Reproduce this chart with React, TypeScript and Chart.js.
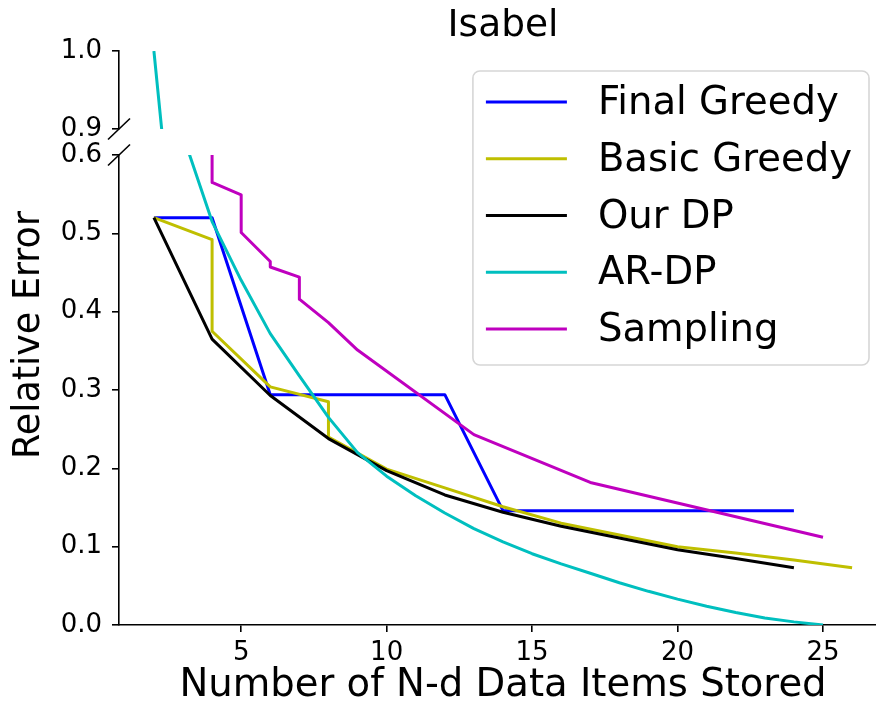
import React, { useEffect, useRef } from 'react';
import { Chart, registerables } from 'chart.js';

Chart.register(...registerables);

const FONT = "'DejaVu Sans', sans-serif";

const chartTitle = 'Isabel';
const xAxisLabel = 'Number of N-d Data Items Stored';
const yAxisLabel = 'Relative Error';

const xTickValues = [5, 10, 15, 20, 25];
const yTickValuesLower = [0, 0.1, 0.2, 0.3, 0.4, 0.5, 0.6];
const yTickValuesUpper = [0.9, 1.0];

const seriesNames = ['Final Greedy', 'Basic Greedy', 'Our DP', 'AR-DP', 'Sampling'];
const seriesColors = ['#0000ff', '#bfbf00', '#000000', '#00bfbf', '#bf00bf'];

const finalGreedyX = [2, 4, 6, 8, 10, 12, 14, 16, 18, 20, 22, 24];
const finalGreedyY = [0.52, 0.52, 0.294, 0.294, 0.294, 0.294, 0.146, 0.146, 0.146, 0.146, 0.146, 0.146];

const basicGreedyX = [2, 4, 4, 6, 8, 8, 10, 12, 14, 16, 18, 20, 22, 24, 26];
const basicGreedyY = [0.52, 0.492, 0.375, 0.304, 0.285, 0.24, 0.199, 0.175, 0.151, 0.13, 0.115, 0.1, 0.092, 0.083, 0.073];

const ourDpX = [2, 4, 6, 8, 10, 12, 14, 16, 18, 20, 22, 24];
const ourDpY = [0.52, 0.365, 0.293, 0.238, 0.197, 0.166, 0.144, 0.126, 0.111, 0.096, 0.085, 0.073];

const arDpX = [2, 3, 4, 5, 6, 7, 8, 9, 10, 11, 12, 13, 14, 15, 16, 17, 18, 19, 20, 21, 22, 23, 24, 25];
const arDpY = [1.0, 0.625, 0.515, 0.44, 0.372, 0.318, 0.265, 0.22, 0.19, 0.165, 0.143, 0.123, 0.106, 0.091, 0.078, 0.066, 0.054, 0.043, 0.033, 0.024, 0.016, 0.009, 0.004, 0.0];

const samplingX = [4, 4, 5, 5, 6, 6, 7, 7, 8, 9, 13, 17, 25];
const samplingY = [0.7, 0.565, 0.549, 0.501, 0.464, 0.457, 0.444, 0.416, 0.386, 0.351, 0.243, 0.182, 0.112];

const seriesX = [finalGreedyX, basicGreedyX, ourDpX, arDpX, samplingX];
const seriesY = [finalGreedyY, basicGreedyY, ourDpY, arDpY, samplingY];

function buildDatasets() {
  const out: any[] = [];
  for (let i = 0; i < seriesNames.length; i++) {
    const pts = seriesX[i].map((x, k) => ({ x, y: seriesY[i][k] }));
    const common = {
      label: seriesNames[i],
      data: pts,
      borderColor: seriesColors[i],
      backgroundColor: seriesColors[i],
      borderWidth: 3,
      pointRadius: 0,
      pointHoverRadius: 0,
      tension: 0,
      fill: false,
      borderJoinStyle: 'round',
      borderCapStyle: 'butt',
      order: seriesNames.length - i,
    };
    out.push({ ...common, yAxisID: 'yLow' });
    out.push({ ...common, yAxisID: 'yHigh' });
  }
  return out;
}

const clipPlugin = {
  id: 'perScaleClip',
  beforeDatasetDraw(chart: any, args: any) {
    const ys = chart.scales[args.meta.yAxisID];
    const { ctx, chartArea } = chart;
    ctx.save();
    ctx.beginPath();
    ctx.rect(chartArea.left, ys.top, chartArea.right - chartArea.left, ys.bottom - ys.top);
    ctx.clip();
  },
  afterDatasetDraw(chart: any) {
    chart.ctx.restore();
  },
};

const decorPlugin = {
  id: 'decor',
  afterDraw(chart: any) {
    const { ctx, chartArea } = chart;
    const hi = chart.scales.yHigh;
    const lo = chart.scales.yLow;
    // axis break marks
    ctx.save();
    ctx.strokeStyle = '#000';
    ctx.lineWidth = 1.6;
    const x0 = chartArea.left;
    for (const y of [hi.bottom, lo.top]) {
      ctx.beginPath();
      ctx.moveTo(x0 - 11, y + 10.5);
      ctx.lineTo(x0 + 11, y - 10.5);
      ctx.stroke();
    }
    ctx.restore();

    // y-axis title, centred on both axes
    ctx.save();
    ctx.fillStyle = '#000';
    ctx.font = `36.5px ${FONT}`;
    ctx.textAlign = 'center';
    ctx.textBaseline = 'middle';
    ctx.translate(30, (hi.top + lo.bottom) / 2 - 3);
    ctx.rotate(-Math.PI / 2);
    ctx.fillText(yAxisLabel, 0, 0);
    ctx.restore();

    // legend box
    const items = chart.data.datasets.filter((d: any) => d.yAxisID === 'yLow');
    ctx.save();
    ctx.font = `38.6px ${FONT}`;
    let maxW = 0;
    for (const d of items) maxW = Math.max(maxW, ctx.measureText(d.label).width);
    const w = 125 + maxW + 17;
    const h = 294;
    const right = chartArea.right - 18;
    const left = right - w;
    const top = chartArea.top + 20;
    const r = 7;
    ctx.beginPath();
    ctx.moveTo(left + r, top);
    ctx.lineTo(right - r, top);
    ctx.arcTo(right, top, right, top + r, r);
    ctx.lineTo(right, top + h - r);
    ctx.arcTo(right, top + h, right - r, top + h, r);
    ctx.lineTo(left + r, top + h);
    ctx.arcTo(left, top + h, left, top + h - r, r);
    ctx.lineTo(left, top + r);
    ctx.arcTo(left, top, left + r, top, r);
    ctx.closePath();
    ctx.fillStyle = 'rgba(255,255,255,0.8)';
    ctx.fill();
    ctx.strokeStyle = '#d6d6d6';
    ctx.lineWidth = 1.6;
    ctx.stroke();
    items.forEach((d: any, i: number) => {
      const y = top + 31 + i * 56.75;
      ctx.beginPath();
      ctx.strokeStyle = d.borderColor;
      ctx.lineWidth = 3;
      ctx.moveTo(left + 13, y);
      ctx.lineTo(left + 94, y);
      ctx.stroke();
      ctx.fillStyle = '#000';
      ctx.textAlign = 'left';
      ctx.textBaseline = 'middle';
      ctx.fillText(d.label, left + 125, y + 2);
    });
    ctx.restore();
  },
};

const tickFont = { family: FONT, size: 26 };
const axisLine = { display: true, color: '#000', width: 1.6 };
const tickGrid = { display: true, drawOnChartArea: false, drawTicks: true, tickLength: 7, color: '#000', lineWidth: 1.6 };

export default function App() {
  const ref = useRef<HTMLCanvasElement>(null);
  useEffect(() => {
    const canvas = ref.current;
    if (!canvas) return;
    const chart = new Chart(canvas, {
      type: 'line',
      data: { datasets: buildDatasets() },
      options: {
        responsive: false,
        animation: false,
        devicePixelRatio: 1,
        layout: { padding: { left: 8, right: 13, top: 0, bottom: 0 } },
        plugins: {
          legend: { display: false },
          tooltip: { enabled: false },
          title: {
            display: true,
            text: chartTitle,
            fullSize: false,
            color: '#000',
            font: { family: FONT, size: 37.5, weight: 'normal', lineHeight: 1.2 },
            padding: { top: 4, bottom: 2 },
          },
        },
        scales: {
          x: {
            type: 'linear',
            position: 'bottom',
            min: 0.8,
            max: 27.2,
            afterBuildTicks: (s: any) => { s.ticks = xTickValues.map((v) => ({ value: v })); },
            afterFit: (s: any) => { s.height = 80; },
            grid: tickGrid,
            border: axisLine,
            ticks: { color: '#000', font: tickFont, padding: 6, maxRotation: 0, autoSkip: false, callback: (v: any) => String(v) },
            title: { display: true, text: xAxisLabel, color: '#000', font: { family: FONT, size: 38.6, lineHeight: 1 }, padding: { top: 0, bottom: 0 } },
          },
          yHigh: {
            type: 'linear',
            position: 'left',
            stack: 'y',
            stackWeight: 78,
            weight: 3,
            min: 0.9,
            max: 1.0,
            afterBuildTicks: (s: any) => { s.ticks = yTickValuesUpper.map((v) => ({ value: v })); },
            afterFit: (s: any) => { s.width = 111; },
            grid: tickGrid,
            border: axisLine,
            ticks: { color: '#000', font: tickFont, padding: 10, autoSkip: false, callback: (v: any) => Number(v).toFixed(1) },
          },
          yGap: {
            type: 'linear',
            position: 'left',
            stack: 'y',
            stackWeight: 26,
            weight: 2,
            display: false,
            afterFit: (s: any) => { s.width = 111; },
          },
          yLow: {
            type: 'linear',
            position: 'left',
            stack: 'y',
            stackWeight: 470,
            weight: 1,
            min: 0,
            max: 0.6,
            afterBuildTicks: (s: any) => { s.ticks = yTickValuesLower.map((v) => ({ value: v })); },
            afterFit: (s: any) => { s.width = 111; },
            grid: tickGrid,
            border: axisLine,
            ticks: { color: '#000', font: tickFont, padding: 10, autoSkip: false, callback: (v: any) => Number(v).toFixed(1) },
          },
        },
      } as any,
      plugins: [clipPlugin, decorPlugin],
    } as any);
    return () => chart.destroy();
  }, []);
  return (
    <div style={{ position: 'fixed', left: 0, top: 0, width: 876, height: 705, overflow: 'hidden', background: '#fff' }}>
      <canvas ref={ref} width={900} height={705} style={{ display: 'block', width: 900, height: 705 }} />
    </div>
  );
}
